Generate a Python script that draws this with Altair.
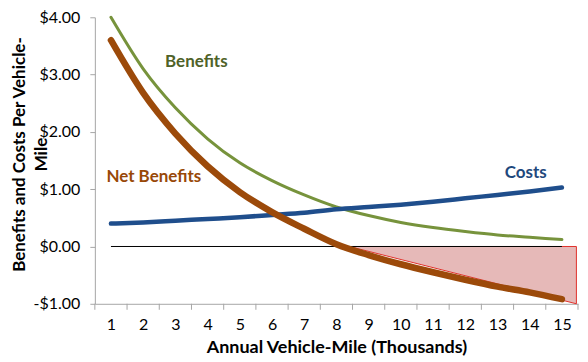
import altair as alt
import pandas as pd

# ---- data ----
miles = [1, 2, 3, 4, 5, 6, 7, 8, 9, 10, 11, 12, 13, 14, 15]
benefits = [4.00, 3.10, 2.42, 1.88, 1.46, 1.15, 0.90, 0.69, 0.54, 0.42, 0.33, 0.26, 0.20, 0.16, 0.12]
costs = [0.40, 0.42, 0.45, 0.48, 0.51, 0.55, 0.59, 0.65, 0.69, 0.73, 0.78, 0.84, 0.90, 0.96, 1.03]
net_benefits = [3.60, 2.68, 1.97, 1.40, 0.95, 0.60, 0.31, 0.04, -0.15, -0.31, -0.45, -0.58, -0.70, -0.80, -0.92]

y_ticks = [-1, 0, 1, 2, 3, 4]
tick_bounds = [0.5, 1.5, 2.5, 3.5, 4.5, 5.5, 6.5, 7.5, 8.5, 9.5, 10.5, 11.5, 12.5, 13.5, 14.5, 15.5]

zero_x0 = [1]
zero_x1 = [15]
zero_y = [0]

shade_x = [8.4, 15.45]
shade_top = [0, 0]
shade_bottom = [0, -1]

label_text = ["Benefits", "Net Benefits", "Costs"]
label_x = [3.65, 2.33, 13.88]
label_y = [3.22, 1.21, 1.29]
label_color = ["#4F6228", "#984807", "#1F497D"]

# ---- tables ----
df = pd.DataFrame({"mile": miles, "benefits": benefits, "costs": costs, "net": net_benefits})
df_ticks = pd.DataFrame({"b": tick_bounds})
df_zero = pd.DataFrame({"x0": zero_x0, "x1": zero_x1, "y": zero_y})
df_shade = pd.DataFrame({"x": shade_x, "top": shade_top, "bottom": shade_bottom})
df_labels = pd.DataFrame({"text": label_text, "x": label_x, "y": label_y, "color": label_color})

FONT = "Lato"
xs = alt.Scale(domain=[0.5, 15.5], nice=False, zero=False)
ys = alt.Scale(domain=[-1, 4], nice=False, zero=False)

X_TITLE = "Annual Vehicle-Mile (Thousands)"
Y_TITLE = ["Benefits and Costs Per Vehicle-", "Mile"]

x_axis = alt.Axis(
    values=miles, ticks=False, grid=False, domainColor="#A6A6A6", labelAngle=0,
    labelFont=FONT, labelFontSize=16, labelColor="#000000", labelPadding=13,
    title=X_TITLE, titleFont=FONT, titleFontSize=18,
    titleFontWeight="bold", titleColor="#000000", titleY=49, titleBaseline="alphabetic",
)
y_axis = alt.Axis(
    values=y_ticks, grid=False, ticks=True, tickSize=5, tickColor="#A6A6A6",
    domainColor="#A6A6A6", labelFont=FONT, labelFontSize=16, labelColor="#000000",
    labelPadding=10,
    labelExpr="datum.value < 0 ? '-$' + format(-datum.value, '.2f') : '$' + format(datum.value, '.2f')",
    title=Y_TITLE, titleFont=FONT, titleFontSize=17,
    titleFontWeight="bold", titleColor="#000000", titleAngle=270, titleX=-83, titleY=137,
    titleAlign="center", titleBaseline="top", titleLineHeight=22,
)


def X(field):
    return alt.X(field, scale=xs, axis=x_axis, title=X_TITLE)


def Y(field):
    return alt.Y(field, scale=ys, axis=y_axis, title=Y_TITLE)


shade = alt.Chart(df_shade).mark_area(
    fill="#E6B9B8", stroke="#E0312B", strokeWidth=1
).encode(
    x=X("x:Q"),
    y=Y("top:Q"),
    y2="bottom:Q",
)

zero = alt.Chart(df_zero).mark_rule(color="#000000", strokeWidth=1).encode(
    x=X("x0:Q"),
    x2="x1:Q",
    y=Y("y:Q"),
)


def series(field, color, width):
    return alt.Chart(df).mark_line(
        color=color, strokeWidth=width, interpolate="monotone", strokeCap="round"
    ).encode(
        x=X("mile:Q"),
        y=Y(f"{field}:Q"),
    )


ben = series("benefits", "#77933C", 3)
cost = series("costs", "#1F4E8C", 4.5)
net = series("net", "#9C4A0A", 6.5)

ticks = alt.Chart(df_ticks).mark_rule(color="#A6A6A6", strokeWidth=1).encode(
    x=X("b:Q"),
    y=alt.value(287),
    y2=alt.value(293),
)

labels = alt.Chart(df_labels).mark_text(
    font=FONT, fontSize=17, fontWeight="bold"
).encode(
    x=X("x:Q"),
    y=Y("y:Q"),
    text="text:N",
    color=alt.Color("color:N", scale=None),
)

chart = alt.layer(shade, zero, ben, cost, net, ticks, labels).properties(
    width=484,
    height=287,
    autosize=alt.AutoSizeParams(type="none"),
    padding={"left": 87, "top": 9, "right": 2, "bottom": 53},
    background="white",
).configure_view(stroke=None)

chart.save("out.html", embed_options={"renderer": "svg", "actions": False})
